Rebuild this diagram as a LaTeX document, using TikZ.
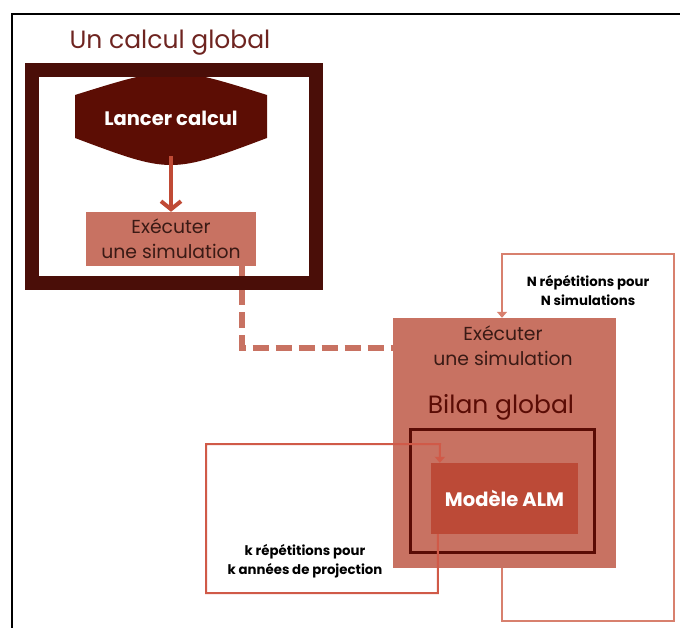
\documentclass[tikz,border=0pt]{standalone}
\usepackage{fontspec}
\setmainfont{Poppins}
\usetikzlibrary{arrows.meta}
\definecolor{titlered}{HTML}{6E2420}
\definecolor{framedark}{HTML}{4A0E08}
\definecolor{launch}{HTML}{5C0D04}
\definecolor{arrowred}{HTML}{C04A35}
\definecolor{simbox}{HTML}{C87262}
\definecolor{almbox}{HTML}{BC4A37}
\definecolor{almframe}{HTML}{5A0C05}
\definecolor{nline}{HTML}{D8806E}
\definecolor{kline}{HTML}{D05A48}
\definecolor{bodytext}{HTML}{3A1A15}
\tikzset{
  simstyle/.style={fill=simbox, draw=none, inner sep=0pt, align=center},
  plaintext/.style={inner sep=0pt, align=center},
  looplabel/.style={plaintext, font=\fontsize{13.3}{19}\selectfont\bfseries, text=black},
  nloop/.style={draw=nline, line width=2pt, -{Triangle[width=10pt,length=6pt]}},
  kloop/.style={draw=kline, line width=2pt, -{Triangle[width=10pt,length=6pt]}},
}
\begin{document}
\begin{tikzpicture}[x=1pt, y=-1pt]
\useasboundingbox (0,0) rectangle (680,628);

% page frame (top and left edges)
\coordinate (pgA) at (12,14);
\coordinate (pgB) at (680,14);
\coordinate (pgC) at (12,628);
\draw[line width=2pt, black] (pgB) -- (pgA) -- (pgC);

% left part: one global run
\node[plaintext, text=titlered, font=\fontsize{25}{30}\selectfont] (title) at (170,43) {Un calcul global};

\node[plaintext, minimum width=192pt, minimum height=76pt] (lancer) at (171,118) {};
\fill[launch] (75,95) .. controls (171,65) .. (267,95) -- (267,138)
  .. controls (171,174) .. (75,138) -- cycle;
\node[plaintext, text=white, font=\fontsize{19.5}{22}\selectfont\bfseries] at (lancer) {Lancer calcul};

\node[simstyle, minimum width=170pt, minimum height=54pt, text=bodytext,
      font=\fontsize{18.8}{25}\selectfont] (exec1) at (171,239) {Exécuter\\une simulation};

\draw[arrowred, line width=4pt, -{Straight Barb[length=8pt,width=20pt]}] (lancer.south) -- (exec1.north);

% right part: one simulation
\node[simstyle, minimum width=223pt, minimum height=250pt] (big) at (504.5,443) {};

% dashed link between the two simulation boxes
\draw[simbox, line width=6pt, dash pattern=on 16pt off 7pt]
  ([xshift=-14pt]exec1.south east) |- ([yshift=-30pt]big.north west);

\node[draw=framedark, line width=14pt, minimum width=284pt, minimum height=213.5pt, inner sep=0pt] (frame1) at (174,176.75) {};

\node[plaintext, text=bodytext, font=\fontsize{18.8}{25}\selectfont] (exec2) at (503,346) {Exécuter\\une simulation};
\node[plaintext, text=almframe, font=\fontsize{25}{28}\selectfont] (bilan) at (501,407) {Bilan global};

\node[draw=almframe, line width=3pt, minimum width=184pt, minimum height=123pt, inner sep=0pt] (almframe) at (502,490.5) {};
\node[fill=almbox, minimum width=147pt, minimum height=71pt, inner sep=0pt, text=white,
      font=\fontsize{19.5}{22}\selectfont\bfseries] (alm) at (504.5,498.5) {Modèle ALM};

% loop over the N simulations
\coordinate (n1) at (674,621);
\coordinate (n2) at (502,254);
\draw[nloop] ([xshift=-2.5pt]big.south) |- (n1) |- (n2) -- ([xshift=-2.5pt]big.north);
\node[looplabel] (nlabel) at (588,291) {N répétitions pour\\N simulations};

% loop over the k projection years
\coordinate (k1) at (206,593);
\coordinate (k2) at (440,444);
\draw[kloop] ([xshift=7pt]alm.south west) |- (k1) |- (k2) -- ([xshift=9pt]alm.north west);
\node[looplabel] (klabel) at (305,561) {k répétitions pour\\k années de projection};
\end{tikzpicture}
\end{document}
